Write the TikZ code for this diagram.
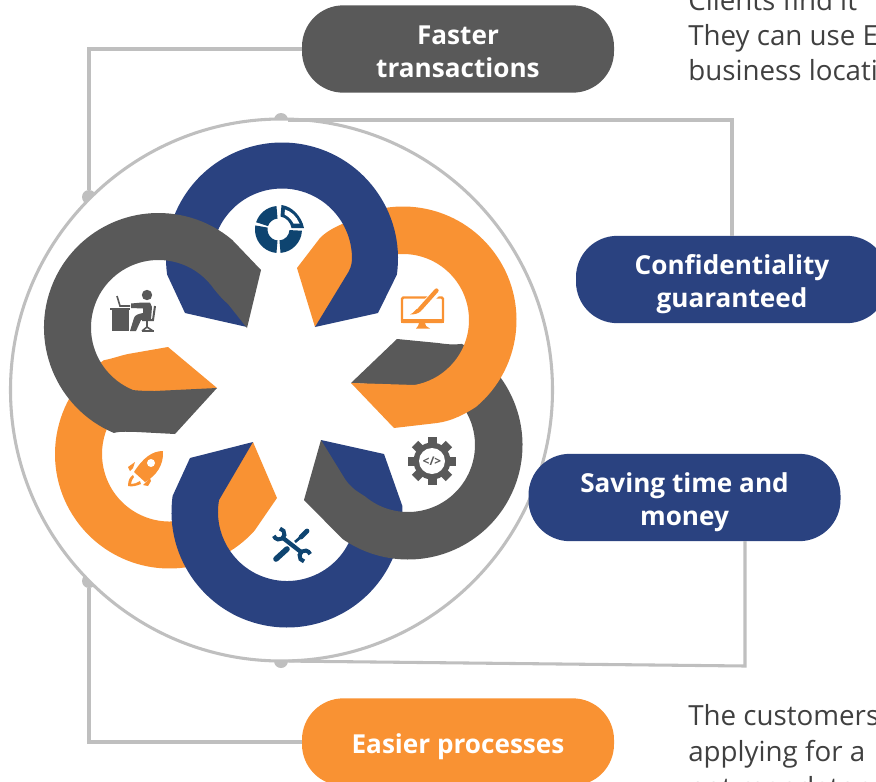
\documentclass[tikz,border=0pt]{standalone}
\usepackage{fontspec}
\setmainfont{Open Sans}
\usetikzlibrary{positioning}
\definecolor{petalblue}{HTML}{2A4280}
\definecolor{petalorange}{HTML}{F99233}
\definecolor{petalgrey}{HTML}{595959}
\definecolor{linegrey}{HTML}{BFBFBF}
\definecolor{iconblue}{HTML}{0E4470}
\definecolor{bodytext}{HTML}{404040}
\newcommand{\pilltop}{\rule{0pt}{22pt}}
\newcommand{\pilllow}{\rule[-4.2pt]{0pt}{1pt}}
\tikzset{
  pill/.style={rounded corners=31pt,minimum width=234pt,minimum height=65.5pt,inner sep=0pt,align=center,text=white,
    font=\fontsize{19.6}{24.75}\selectfont\bfseries},
  linkdot/.style={circle,fill=linegrey,minimum size=10.5pt,inner sep=0pt},
  linkline/.style={draw=linegrey,line width=2.3pt},
  bodyline/.style={anchor=base west,inner sep=0pt,text=bodytext,font=\fontsize{20.8}{24}\selectfont},
}
\begin{document}
\begin{tikzpicture}[x=0.75pt,y=0.75pt,yscale=-1]
      \useasboundingbox (0,0) rectangle (876,782);
      \clip (0,0) rectangle (876,782);
      % dots sit behind the ring
      \node[linkdot] (dottop) at (281,120) {};
      \node[linkdot] (dotleft) at (89,197) {};
      \node[linkdot] (dotlow) at (89,581) {};
      \node[linkdot] (dotbottom) at (281,661) {};
      \node[circle,draw=linegrey,fill=white,line width=2.3pt,minimum size=406.5pt,inner sep=0pt] (ring) at (281.5,390) {};
      \node[pill,fill=petalgrey] (faster) at (458,49) {\pilltop Faster\\transactions\pilllow};
      \node[pill,fill=petalblue] (confid) at (732,279.5) {\pilltop Confidentiality\\guaranteed\pilllow};
      \node[pill,fill=petalblue] (saving) at (684.5,497.5) {\pilltop Saving time and\\money\pilllow};
      \node[pill,fill=petalorange] (easier) at (458,742) {\pilltop Easier processes\pilllow};
      \coordinate (savingdrop) at (745,541);
      \coordinate (savingcorner) at (745,666);
      \draw[linkline] (faster.west) -| (dotleft);
      \draw[linkline] (dottop) -| (confid.north);
      \draw[linkline] (savingdrop) -- (savingcorner) -- (dotbottom);
      \draw[linkline] (easier.west) -| (dotlow);
      \node[bodyline] (clients1) at (688,10) {Clients find it};
      \node[bodyline] (clients2) at (688,45) {They can use E};
      \node[bodyline] (clients3) at (688,80) {business locati};
      \node[bodyline] (custom1) at (688,725) {The customers};
      \node[bodyline] (custom2) at (688,761) {applying for a};
      \node[bodyline] (custom3) at (688,797) {not mandatory};
      % petals, lowest first
      \coordinate (cleft) at (169.5,454);
      \coordinate (cbottom) at (287,512);
      \coordinate (cright) at (408,445);
      \coordinate (cupper) at (403,320);
      \coordinate (ctop) at (282,258.5);
      \coordinate (cgrey) at (158.5,327.5);
      \fill[petalorange] (217,388) -- (168,347) -- (128,354) .. controls (119,356) and (111,359) .. ([shift={(-125:114.5)}]cleft)
        arc[start angle=-125,end angle=-318,radius=114.5] -- (277,498) -- (253,442)
        -- ([shift={(73:67.5)}]cleft) arc[start angle=73,end angle=233,radius=67.5] -- cycle;
      \fill[petalblue] (253,442) -- (190,458) -- ([shift={(188:115.5)}]cbottom)
        arc[start angle=188,end angle=-3,radius=115.5] -- (384,454) -- (321,440)
        -- ([shift={(20:69)}]cbottom) arc[start angle=20,end angle=190,radius=69] -- cycle;
      \fill[petalgrey] (351,383) -- (397,339) -- (438,343) .. controls (445,344) and (452,345) .. ([shift={(-62:114.5)}]cright)
        arc[start angle=-62,end angle=125,radius=114.5] -- (304,500) -- (321,440) -- (345,479)
        .. controls (351,488) and (358,492) .. ([shift={(130:67)}]cright)
        arc[start angle=130,end angle=-58,radius=67] -- cycle;
      \fill[petalorange] (351,383) -- (394,428) -- (437,423) .. controls (452,421) and (465,414) .. ([shift={(50:113.5)}]cupper)
        arc[start angle=50,end angle=-122,radius=113.5] .. controls (333,228) and (326,232) .. (320,238) -- (297,268) -- (315,327)
        -- ([shift={(-135:66)}]cupper) arc[start angle=-135,end angle=80,radius=66] -- cycle;
      \fill[petalblue] ([shift={(8:116)}]ctop) arc[start angle=8,end angle=-188,radius=116] -- (185,313) -- (247,327)
        -- ([shift={(-190:70)}]ctop) arc[start angle=-190,end angle=0,radius=70]
        .. controls (352,265) and (350,270) .. (346,276) -- (315,327) -- (378,313) -- cycle;
      \fill[petalgrey] (217,388) -- (175,434) -- (137,432) .. controls (129,432) and (122,431) .. ([shift={(113:114.5)}]cgrey)
        arc[start angle=113,end angle=310,radius=114.5] -- (261,270) -- (247,328) -- (228,304)
        .. controls (223,300) and (218,294) .. ([shift={(-35:67.5)}]cgrey)
        arc[start angle=325,end angle=112,radius=67.5] .. controls (142,391) and (148,391) .. (155,391) -- cycle;
      % pie
      \begin{scope}[shift={(278.5,229.5)}]
        \fill[iconblue] (-95:23.5) arc[start angle=-95,end angle=-162,radius=23.5] -- (-162:11) arc[start angle=-162,end angle=-95,radius=11] -- cycle;
        \fill[iconblue] (190:23.5) arc[start angle=190,end angle=95,radius=23.5] -- (95:11) arc[start angle=95,end angle=190,radius=11] -- cycle;
        \fill[iconblue] (85:23.5) arc[start angle=85,end angle=3,radius=23.5] -- (3:11) arc[start angle=3,end angle=85,radius=11] -- cycle;
        \fill[iconblue] (3,-24.5) .. controls (14,-23) and (23,-13) .. (25.5,-1.5) -- (13,-1.5) .. controls (12,-7) and (8,-12) .. (2,-13) -- cycle;
        \fill[white] (6.5,-20) .. controls (13,-18) and (18,-13) .. (21,-6) -- (15,-6) .. controls (13,-10) and (10,-13) .. (6,-15) -- cycle;
      \end{scope}
      % monitor
      \begin{scope}[shift={(422,310)}]
        \draw[petalorange,line width=1.8pt,rounded corners=1pt] (-20,-12.5) rectangle (21,12);
        \fill[petalorange] (-21,9) rectangle (22,13);
        \fill[petalorange] (-3,13) -- (3,13) -- (4,16) -- (8,18.5) -- (-6,18.5) -- (-4,16) -- cycle;
        \draw[white,line width=6pt] (16,-19) -- (-3,1);
        \draw[petalorange,line width=3.2pt,line cap=round] (14.5,-19.5) -- (-2,-1);
        \fill[petalorange] (-3,-2) -- (-1,1) .. controls (-4,4) and (-8,4.5) .. (-12,4.5) .. controls (-8,3) and (-7,-1) .. cycle;
      \end{scope}
      % gear
      \begin{scope}[shift={(432,461)}]
        \fill[petalgrey] (0,0) circle[radius=18.5];
        \foreach \a in {0,45,...,315}
          \fill[petalgrey,rotate=\a] (-4.5,-24) rectangle (4.5,-15);
        \fill[white] (0,0) circle[radius=13];
      \end{scope}
      \node[inner sep=0pt,text=petalgrey,font=\fontsize{9}{10}\selectfont\bfseries] (gearcode) at (432,461) {</>};
      % tools
      \draw[iconblue,line width=3.2pt] (283,538) -- (301,552);
      \draw[iconblue,line width=3pt] ([shift={(-80:5.5)}]279,534) arc[start angle=-80,end angle=160,radius=5.5];
      \draw[iconblue,line width=3pt] ([shift={(100:5.5)}]305,556) arc[start angle=100,end angle=340,radius=5.5];
      \draw[iconblue,line width=4.2pt,line cap=round] (276,559) -- (287,549);
      \draw[iconblue,line width=2pt] (295,542) -- (302,536);
      \draw[iconblue,line width=3.6pt,line cap=round] (301,537) -- (307,531);
      % rocket
      \fill[petalorange] (163,451) .. controls (152,451) and (143,458) .. (134,472) -- (145,482) .. controls (156,476) and (164,465) .. cycle;
      \fill[white] (151,463) circle[radius=4];
      \fill[petalorange] (128,467) -- (135,462) -- (133,468) -- (130,471) -- cycle;
      \fill[petalorange] (143,485) -- (150,478) -- (151,481) -- (148,486) -- cycle;
      \fill[petalorange] (128,486) .. controls (128,480) and (130,477) .. (133,475) -- (134,477) .. controls (132,480) and (131,482) .. (131,484) .. controls (134,484) and (137,483) .. (140,481) -- (141,484) .. controls (136,486) and (132,487) .. cycle;
      % person at desk
      \fill[petalgrey] (147,295) circle[radius=5.2];
      \fill[petalgrey] (110,307.5) rectangle (130,309.5);
      \fill[petalgrey] (112,309.5) rectangle (129,331);
      \draw[petalgrey,line width=1.2pt] (117,296) -- (120,306) -- (130,306);
      \fill[petalgrey] (131,303.5) -- (142,302.5) -- (150,302.5) -- (152,307) -- (151,319) -- (141,320) -- (136,331) -- (130,331) -- (134,318) .. controls (135,315) and (138,314) .. (143,313) -- (143,308.5) -- (131,308) -- cycle;
      \draw[petalgrey,line width=1.5pt] (155,306) -- (153,320) -- (142,320);
      \draw[petalgrey,line width=1.2pt] (147,320) -- (147,327) (142,331) -- (147,327) -- (153,331);
      \fill[petalgrey] (142,330) rectangle (154,331.5);
    \end{tikzpicture}
\end{document}
